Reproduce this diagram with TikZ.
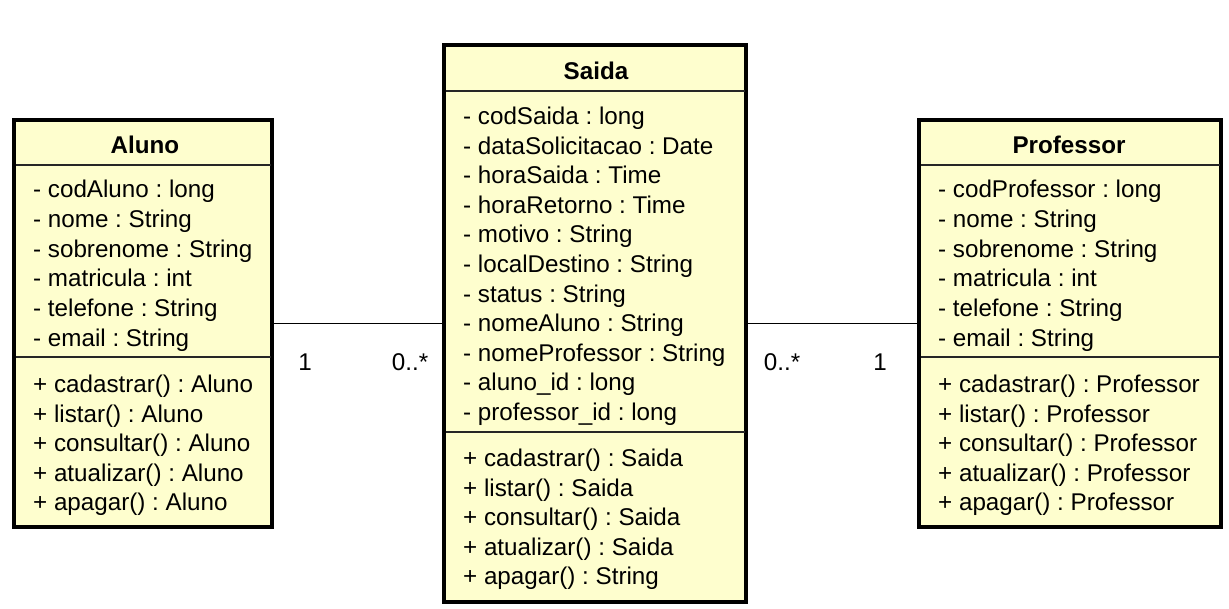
\documentclass[tikz,border=0pt]{standalone}
\usepackage{fontspec}
\setmainfont{Liberation Sans}
\frenchspacing
\begin{document}
\begin{tikzpicture}[x=1pt,y=-1pt,
  every node/.style={font=\fontsize{24.2}{28}\selectfont, inner sep=0pt},
  umlbox/.style={draw=black, line width=3.2pt, fill=umlfill, inner sep=0pt},
  divline/.style={draw=black!85, line width=1.5pt},
  conn/.style={draw=black, line width=1.6pt},
  attr/.style={anchor=base west},
  hdr/.style={anchor=base, font=\fontsize{24.2}{28}\selectfont\bfseries},
  mult/.style={anchor=base}]
\definecolor{umlfill}{HTML}{FEFECE}
\useasboundingbox (0,0) rectangle (1229,609);
% boxes
\node[umlbox, minimum width=258pt, minimum height=407pt] (aluno) at (143,323.5) {};
\node[umlbox, minimum width=302pt, minimum height=557pt] (saida) at (595,323.5) {};
\node[umlbox, minimum width=302pt, minimum height=407pt] (prof) at (1070,323.5) {};
% dividers
\draw[divline] (15.5,165) -- (270.5,165);
\draw[divline] (15.5,357) -- (270.5,357);
\draw[divline] (445.5,91) -- (744.5,91);
\draw[divline] (445.5,432) -- (744.5,432);
\draw[divline] (920.5,165) -- (1219.5,165);
\draw[divline] (920.5,357) -- (1219.5,357);
% connectors
\draw[conn] (aluno) -- (saida);
\draw[conn] (saida) -- (prof);
\node[mult] (m1) at (305,370.5) {1};
\node[mult] (m2) at (410,370.5) {0..*};
\node[mult] (m3) at (782,370.5) {0..*};
\node[mult] (m4) at (880,370.5) {1};
% Aluno
\node[hdr] (ah) at (145,153.5) {Aluno};
\foreach \t [count=\i] in {- codAluno : long, - nome : String, - sobrenome : String, - matricula : int, - telefone : String, - email : String}
  \node[attr] (aa\i) at (33,{189+8.5+(\i-1)*29.8}) {\t};
\foreach \t [count=\i] in {+ cadastrar() : Aluno, + listar() : Aluno, + consultar() : Aluno, + atualizar() : Aluno, + apagar() : Aluno}
  \node[attr] (am\i) at (33,{384+8.5+(\i-1)*29.6}) {\t};
% Saida
\node[hdr] (sh) at (596,79.5) {Saida};
\foreach \t [count=\i] in {- codSaida : long, - dataSolicitacao : Date, - horaSaida : Time, - horaRetorno : Time, - motivo : String, - localDestino : String, - status : String, - nomeAluno : String, - nomeProfessor : String, - aluno\_id : long, - professor\_id : long}
  \node[attr] (sa\i) at (463,{116+8.5+(\i-1)*29.6}) {\t};
\foreach \t [count=\i] in {+ cadastrar() : Saida, + listar() : Saida, + consultar() : Saida, + atualizar() : Saida, + apagar() : String}
  \node[attr] (sm\i) at (463,{458+8.5+(\i-1)*29.6}) {\t};
% Professor
\node[hdr] (ph) at (1069,153.5) {Professor};
\foreach \t [count=\i] in {- codProfessor : long, - nome : String, - sobrenome : String, - matricula : int, - telefone : String, - email : String}
  \node[attr] (pa\i) at (938,{189+8.5+(\i-1)*29.8}) {\t};
\foreach \t [count=\i] in {+ cadastrar() : Professor, + listar() : Professor, + consultar() : Professor, + atualizar() : Professor, + apagar() : Professor}
  \node[attr] (pm\i) at (938,{384+8.5+(\i-1)*29.6}) {\t};
\end{tikzpicture}
\end{document}
